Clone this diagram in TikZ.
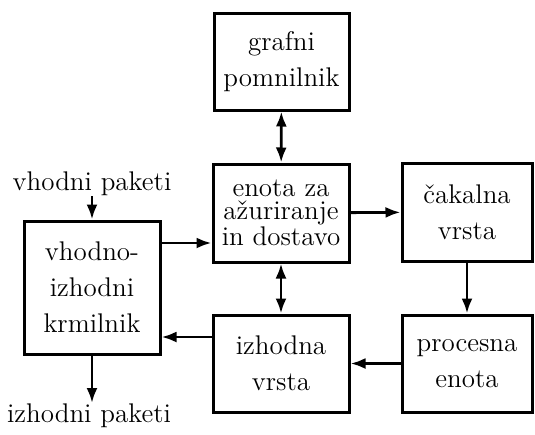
\documentclass[tikz,border=0pt]{standalone}
\usepackage{fontspec}
\usetikzlibrary{arrows.meta}
\begin{document}
\begin{tikzpicture}[x=0.5pt,y=-0.5pt,
  box/.style={draw,line width=1.5pt,inner sep=0pt,align=center,
    font=\fontsize{13.5}{18}\selectfont},
  lbl/.style={inner sep=0pt,font=\fontsize{13.5}{18}\selectfont},
  arr/.style={line width=1.4pt,-{Latex[length=7.5pt,width=5.5pt]}},
  darr/.style={line width=1.4pt,{Latex[length=7.5pt,width=5.5pt]}-{Latex[length=7.5pt,width=5.5pt]}}]
\useasboundingbox (0,0) rectangle (535,434);
\node[box,minimum width=67.5pt,minimum height=48.5pt] (gp) at (281.5,61.5) {grafni\\pomnilnik};
\node[box,minimum width=68pt,minimum height=49pt,font=\fontsize{13.5}{11.2}\selectfont] (en) at (281,213) {enota za\\ažuriranje\\in dostavo};
\node[box,minimum width=65pt,minimum height=49pt] (ck) at (467,212) {čakalna\\vrsta};
\node[box,minimum width=68pt,minimum height=48.5pt] (iz) at (281,363.5) {izhodna\\vrsta};
\node[box,minimum width=65pt,minimum height=48.5pt] (pe) at (467,363.5) {procesna\\enota};
\node[box,minimum width=68pt,minimum height=66.5pt] (vh) at (92,287.5) {vhodno-\\izhodni\\krmilnik};
\node[lbl,anchor=south] (vp) at (92,196) {vhodni paketi};
\node[lbl,anchor=north] (ip) at (89,403) {izhodni paketi};
\coordinate (c1) at (0,243);
\coordinate (c2) at (0,337);
\draw[darr] (gp) -- (en);
\draw[darr] (en) -- (iz);
\draw[arr] (en) -- (ck);
\draw[arr] (ck) -- (pe);
\draw[arr] (pe) -- (iz);
\draw[arr] (vh.east |- c1) -- (en.west |- c1);
\draw[arr] (iz.west |- c2) -- (vh.east |- c2);
\draw[arr] (vp.south -| vh.north) -- (vh.north);
\draw[arr] (vh.south) -- (vh.south |- ip.north);
\end{tikzpicture}
\end{document}
